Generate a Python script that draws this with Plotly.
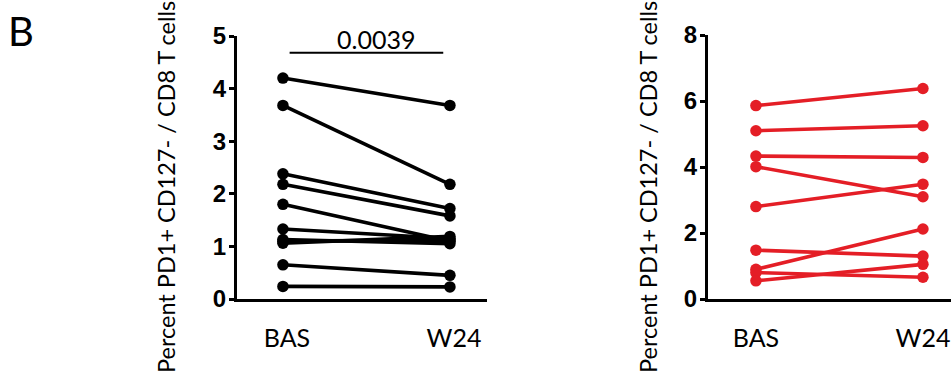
import plotly.graph_objects as go

categories = ["BAS", "W24"]

# Left panel (black)
left_bas = [4.20, 3.68, 2.38, 2.18, 1.80, 1.33, 1.13, 1.10, 1.06, 0.65, 0.24]
left_w24 = [3.68, 2.18, 1.72, 1.58, 1.10, 1.15, 1.05, 1.12, 1.19, 0.45, 0.23]

# Right panel (red)
right_bas = [5.86, 5.10, 4.33, 4.01, 2.80, 1.48, 0.90, 0.80, 0.55]
right_w24 = [6.38, 5.25, 4.29, 3.10, 3.48, 1.30, 2.12, 0.66, 1.05]

left_ticks = [0, 1, 2, 3, 4, 5]
right_ticks = [0, 2, 4, 6, 8]
p_value_text = "0.0039"
y_title = "Percent PD1+ CD127- / CD8 T cells"

BLACK = "#000000"
RED = "#E41E26"


def paired_xy(bas, w24):
    xs, ys = [], []
    for a, b in zip(bas, w24):
        xs += [0, 1, None]
        ys += [a, b, None]
    return xs, ys


fig = go.Figure()

lx, ly = paired_xy(left_bas, left_w24)
fig.add_trace(go.Scatter(x=lx, y=ly, mode="lines+markers", xaxis="x", yaxis="y",
                         line=dict(color=BLACK, width=3.6),
                         marker=dict(color=BLACK, size=11.5),
                         cliponaxis=False, showlegend=False, hoverinfo="skip"))

rx, ry = paired_xy(right_bas, right_w24)
fig.add_trace(go.Scatter(x=rx, y=ry, mode="lines+markers", xaxis="x2", yaxis="y2",
                         line=dict(color=RED, width=3.6),
                         marker=dict(color=RED, size=11.5),
                         cliponaxis=False, showlegend=False, hoverinfo="skip"))

W, H = 951, 377

xfont = dict(family="Lato", size=25, color="black")
yfont = dict(family="Liberation Sans", size=24, color="black", weight="bold")

common_x = dict(showline=True, linecolor="black", linewidth=3, ticks="",
                tickvals=[0, 1], ticktext=categories, tickfont=xfont, automargin=False,
                showgrid=False, zeroline=False, ticklabelstandoff=15, fixedrange=True)
common_y = dict(showline=True, linecolor="black", linewidth=3, ticks="outside",
                ticklen=5, tickwidth=3, tickcolor="black", tickfont=yfont, automargin=False,
                showgrid=False, zeroline=False, ticklabelstandoff=-2, fixedrange=True)

fig.update_layout(
    width=W, height=H,
    margin=dict(l=0, r=0, t=0, b=0),
    paper_bgcolor="white", plot_bgcolor="white",
    xaxis=dict(domain=[237 / W, 487 / W], range=[-0.275, 1.222], anchor="y",
               ticklabelshift=4, **common_x),
    yaxis=dict(domain=[1 - 299 / H, 1 - 36 / H], range=[0, 5], tickvals=left_ticks,
               anchor="x", **common_y),
    xaxis2=dict(domain=[708 / W, 1.0], range=[-0.287, 1.168], anchor="y2",
                ticklabelshift=0, **common_x),
    yaxis2=dict(domain=[1 - 299 / H, 1 - 35 / H], range=[0, 8], tickvals=right_ticks,
                anchor="x2", **common_y),
)

# significance bracket
fig.add_shape(type="line", xref="x", yref="y", x0=0.04, x1=0.96, y0=4.68, y1=4.68,
              line=dict(color="black", width=2))
fig.add_annotation(xref="x", yref="y", x=0.56, y=4.68, text=p_value_text,
                   showarrow=False, yanchor="bottom", yshift=-3,
                   font=dict(family="Lato", size=25, color="black"))

# y-axis titles
fig.add_annotation(xref="paper", yref="paper", x=166 / W, y=1 - 187 / H, text=y_title,
                   textangle=-90, showarrow=False, xanchor="center", yanchor="middle",
                   font=dict(family="Lato", size=23.5, color="black"))
fig.add_annotation(xref="paper", yref="paper", x=648 / W, y=1 - 187 / H, text=y_title,
                   textangle=-90, showarrow=False, xanchor="center", yanchor="middle",
                   font=dict(family="Lato", size=23.5, color="black"))

# panel letter
fig.add_annotation(xref="paper", yref="paper", x=21 / W, y=1 - 31 / H, text="B",
                   showarrow=False, xanchor="center", yanchor="middle",
                   font=dict(family="Lato", size=40, color="black"))

fig.write_html("out.html")
